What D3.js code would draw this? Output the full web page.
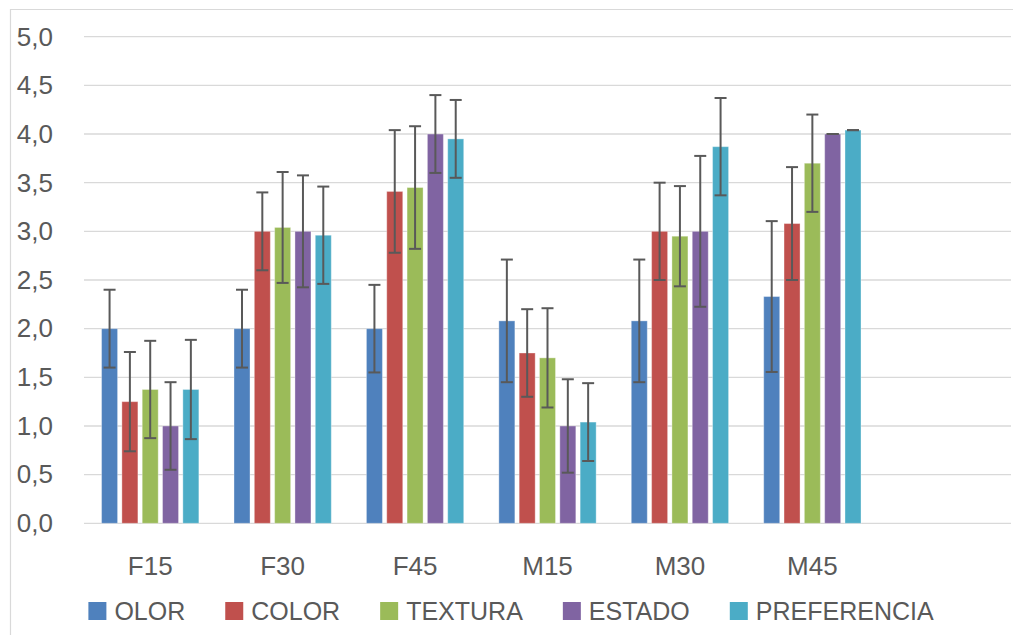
<!DOCTYPE html>
<html>
<head>
<meta charset="utf-8">
<script src="https://cdn.jsdelivr.net/npm/d3@7"></script>
<style>
  html, body { margin: 0; padding: 0; background: #fff; }
  svg { display: block; }
  text { font-family: "Liberation Sans", Arial, sans-serif; fill: #595959; }
</style>
</head>
<body>
<svg id="chart" width="1013" height="635"></svg>
<script>
const categories = ["F15", "F30", "F45", "M15", "M30", "M45"];
const seriesNames = ["OLOR", "COLOR", "TEXTURA", "ESTADO", "PREFERENCIA"];
const seriesColors = ["#4F81BD", "#C0504D", "#9BBB59", "#8064A2", "#4BACC6"];
// mean values per series (same order as categories)
const olor        = [2.0, 2.0, 2.0, 2.08, 2.08, 2.33];
const color       = [1.25, 3.0, 3.41, 1.75, 3.0, 3.08];
const textura     = [1.375, 3.04, 3.45, 1.70, 2.95, 3.70];
const estado      = [1.0, 3.0, 4.0, 1.0, 3.0, 4.0];
const preferencia = [1.375, 2.96, 3.95, 1.04, 3.87, 4.04];
// error (± half-width) per series
const olorErr        = [0.40, 0.40, 0.45, 0.63, 0.63, 0.775];
const colorErr       = [0.51, 0.40, 0.63, 0.45, 0.50, 0.58];
const texturaErr     = [0.50, 0.57, 0.63, 0.51, 0.515, 0.50];
const estadoErr      = [0.45, 0.575, 0.40, 0.48, 0.775, 0.0];
const preferenciaErr = [0.51, 0.50, 0.40, 0.40, 0.50, 0.0];
const yTicks = [0, 0.5, 1, 1.5, 2, 2.5, 3, 3.5, 4, 4.5, 5];

const values = [olor, color, textura, estado, preferencia];
const errors = [olorErr, colorErr, texturaErr, estadoErr, preferenciaErr];

const svg = d3.select("#chart");
const FS = "26px";

// outer frame (left and top edges visible)
svg.append("path").attr("d", "M10.5,635 L10.5,9.5 L1013,9.5")
  .attr("fill", "none").attr("stroke", "#d9d9d9").attr("stroke-width", 1.2);

const plotLeft = 84, plotRight = 1011;
const catStep = (plotRight - plotLeft) / 7;
const x0 = d3.scaleBand().domain(categories).range([plotLeft, plotLeft + catStep * 6]);
const groupW = 97.3;
const x1 = d3.scaleBand().domain(seriesNames).range([0, groupW]).paddingInner(0.212);
const y = d3.scaleLinear().domain([0, 5]).range([523.3, 36.7]);

// gridlines
svg.append("g").selectAll("line").data(yTicks).join("line")
  .attr("x1", plotLeft).attr("x2", plotRight)
  .attr("y1", d => y(d)).attr("y2", d => y(d))
  .attr("stroke", "#d9d9d9").attr("stroke-width", 1.3);

// y axis labels
const yAxis = d3.axisLeft(y).tickValues(yTicks)
  .tickFormat(d => d3.format(".1f")(d).replace(".", ","))
  .tickSize(0).tickPadding(0);
const yg = svg.append("g").attr("transform", "translate(53,0)").call(yAxis);
yg.select(".domain").remove();
yg.selectAll("text").style("font-size", FS).attr("fill", "#595959")
  .style("font-family", "'Liberation Sans', Arial, sans-serif");

// x axis labels
const xAxis = d3.axisBottom(x0).tickSize(0).tickPadding(0);
const xg = svg.append("g").attr("transform", "translate(0,575)").call(xAxis);
xg.select(".domain").remove();
xg.selectAll("text").style("font-size", FS).attr("fill", "#595959")
  .attr("dy", "0").style("font-family", "'Liberation Sans', Arial, sans-serif");

// bars
const flat = [];
categories.forEach((c, ci) => {
  seriesNames.forEach((s, si) => {
    flat.push({ cat: c, ser: s, si, v: values[si][ci], e: errors[si][ci] });
  });
});
const groupOffset = (x0.bandwidth() - groupW) / 2;
const bx = d => x0(d.cat) + groupOffset + x1(d.ser);

svg.append("g").selectAll("rect").data(flat).join("rect")
  .attr("x", d => bx(d))
  .attr("y", d => y(d.v))
  .attr("width", x1.bandwidth())
  .attr("height", d => y(0) - y(d.v))
  .attr("fill", d => seriesColors[d.si])
  .attr("stroke", "rgba(255,255,255,0.35)")
  .attr("stroke-width", 1);

// error bars
const eg = svg.append("g").attr("stroke", "#595959").attr("stroke-width", 2).attr("fill", "none");
const cap = 6;
flat.forEach(d => {
  const cx = bx(d) + x1.bandwidth() / 2;
  const yt = y(d.v + d.e), yb = y(d.v - d.e);
  eg.append("line").attr("x1", cx).attr("x2", cx).attr("y1", yt).attr("y2", yb);
  eg.append("line").attr("x1", cx - cap).attr("x2", cx + cap).attr("y1", yt).attr("y2", yt);
  eg.append("line").attr("x1", cx - cap).attr("x2", cx + cap).attr("y1", yb).attr("y2", yb);
});

// legend
const lg = svg.append("g");
const items = lg.selectAll("g").data(seriesNames).join("g");
items.append("rect").attr("width", 18).attr("height", 18).attr("y", 602)
  .attr("fill", (d, i) => seriesColors[i]);
items.append("text").text(d => d).attr("y", 620).attr("x", 26)
  .style("font-size", "25px");
let cursor = 0;
const positions = [];
items.each(function(d, i) {
  const w = d3.select(this).select("text").node().getComputedTextLength();
  positions.push(cursor);
  cursor += 26 + w + 40;
});
const totalW = cursor - 40;
const startX = 511 - totalW / 2;
items.attr("transform", (d, i) => `translate(${startX + positions[i]},0)`);
items.select("rect").attr("x", 0);
</script>
</body>
</html>
